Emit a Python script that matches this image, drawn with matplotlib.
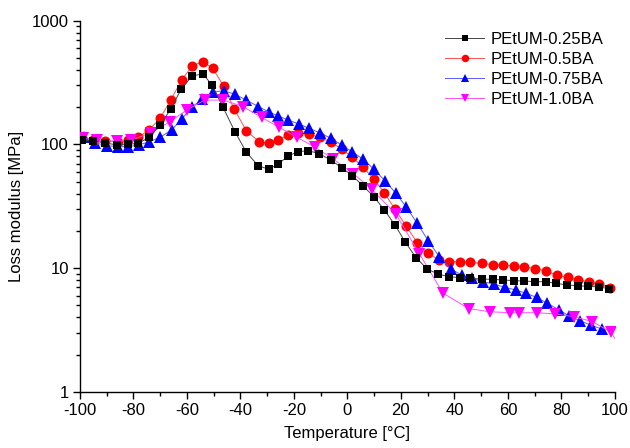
import matplotlib
matplotlib.use("Agg")
import matplotlib.pyplot as plt
from matplotlib.ticker import LogLocator, FixedLocator, MultipleLocator, NullFormatter

plt.rcParams['font.family'] = ['Liberation Sans', 'DejaVu Sans']
plt.rcParams['axes.unicode_minus'] = False

t_025 = [-99.4, -95, -90.7, -86.3, -81.9, -78.2, -74.2, -70.1, -66.1, -62.2,
         -58, -54, -50.7, -46.5, -42.1, -37.8, -33.3, -29.3, -25.9, -22.1,
         -18.6, -14.6, -10.5, -6.3, -2.2, 1.8, 5.9, 9.9, 13.8, 17.8,
         21.5, 25.6, 29.8, 33.9, 37.9, 42.1, 46, 50.2, 54.3, 58.3,
         62.2, 66.1, 70.1, 74.1, 77.9, 82.2, 86.1, 90, 94, 97.9]
e_025 = [108, 107, 103, 99, 100, 102, 114, 143, 192, 279,
         359, 370, 303, 199, 127, 86.5, 67, 63, 69.5, 80.6,
         87.3, 89, 84, 75, 65, 56, 46, 37.8, 29.5, 22.3,
         16.4, 12.2, 9.85, 8.97, 8.54, 8.38, 8.28, 8.18, 8.13, 8.03,
         7.93, 7.88, 7.78, 7.78, 7.55, 7.32, 7.22, 7.14, 7.05, 6.83]

t_05 = [-99.4, -94.6, -90.7, -85.9, -81.9, -78.2, -74.2, -70.1, -66.1, -62,
        -58, -54.1, -50.4, -46.3, -42.3, -37.8, -33, -29.2, -25.9, -22.1,
        -18.4, -14.4, -10.3, -6.3, -2.2, 1.8, 5.9, 9.9, 13.8, 17.8,
        22, 26.1, 30.2, 34.2, 38.1, 42.1, 46, 50.2, 54.3, 58.3,
        62.2, 66.1, 70.1, 74.1, 78.2, 82.3, 86.3, 90.3, 94.1, 98]
e_05 = [112, 110, 107, 105, 108, 114, 131, 162, 228, 331,
        432, 466, 412, 296, 192, 129, 105, 102, 108.6, 119,
        123, 121, 114, 105, 91.8, 78.7, 65.3, 52.3, 40.7, 29.9,
        21.8, 16.1, 13.2, 11.65, 11.3, 11.3, 11.15, 10.95, 10.7, 10.55,
        10.4, 10.3, 9.9, 9.55, 8.81, 8.44, 8.07, 7.74, 7.45, 6.9]

t_075 = [-98.4, -94.4, -90, -85.9, -81.9, -77.9, -74.2, -70.1, -65.7, -62,
         -58, -54.3, -50.4, -46.3, -42.1, -37.8, -33.3, -29.2, -25.9, -22.1,
         -18.1, -14.4, -10.3, -6.2, -2.2, 1.8, 5.9, 9.9, 14, 18.1,
         22, 26, 30.2, 34.3, 38.6, 42.7, 46.4, 50.8, 54.9, 58.9,
         62.9, 66.7, 70.7, 74.8, 79, 83, 86.9, 90.9, 95]
e_075 = [114, 103, 97.8, 96, 96, 99, 105, 114, 131, 160,
         202, 231, 264, 272, 254, 228, 202, 182, 170, 157,
         146, 135, 124, 112, 99, 87, 75.8, 63, 50.9, 40.3,
         31.2, 23.2, 16.7, 12.4, 9.86, 8.81, 8.28, 7.78, 7.41, 7.01,
         6.67, 6.27, 5.82, 5.2, 4.62, 4.1, 3.77, 3.48, 3.23]

t_10 = [-99, -93.5, -86, -81, -73.5, -66.5, -60, -53.4, -46.4, -39,
        -32.1, -25.6, -18.9, -12.1, -5.3, 2.2, 9, 18.1, 26.9, 35.7,
        45.3, 53.2, 60.7, 64.2, 70.7, 77.7, 84.7, 91.6, 98.5, 100.5]
e_10 = [112, 108, 106, 108, 124, 152, 190, 228, 228, 202,
        165, 138, 114, 95, 76, 58, 43.5, 27.4, 13.1, 6.3,
        4.72, 4.45, 4.37, 4.37, 4.37, 4.27, 4.06, 3.7, 3.05, 2.6]

labels = ['PEtUM-0.25BA', 'PEtUM-0.5BA', 'PEtUM-0.75BA', 'PEtUM-1.0BA']

fig = plt.figure(figsize=(6.3, 4.48), dpi=100)
ax = fig.add_axes([0.127, 0.125, 0.849, 0.829])

ax.plot(t_025, e_025, color='#444444', lw=0.7, marker='s', ms=6,
        mfc='black', mec='black', mew=0, label=labels[0], zorder=4)
ax.plot(t_05, e_05, color='#ff5050', lw=0.7, marker='o', ms=7.2,
        mfc='red', mec='red', mew=0, label=labels[1], zorder=3)
ax.plot(t_075, e_075, color='#5a5aff', lw=0.7, marker='^', ms=8,
        mfc='blue', mec='blue', mew=0, label=labels[2], zorder=3)
ax.plot(t_10, e_10, color='#ff50ff', lw=0.7, marker='v', ms=8,
        mfc='magenta', mec='magenta', mew=0, label=labels[3], zorder=3,
        markevery=slice(0, len(t_10) - 1))

ax.set_yscale('log')
ax.set_xlim(-100, 100)
ax.set_ylim(1, 1000)
ax.xaxis.set_major_locator(MultipleLocator(20))
ax.xaxis.set_minor_locator(MultipleLocator(10))
ax.yaxis.set_major_locator(FixedLocator([1, 10, 100, 1000]))
ax.yaxis.set_major_formatter(matplotlib.ticker.FixedFormatter(['1', '10', '100', '1000']))
ax.yaxis.set_minor_locator(LogLocator(base=10, subs=range(2, 10)))
ax.yaxis.set_minor_formatter(NullFormatter())

for s in ['top', 'right']:
    ax.spines[s].set_visible(False)
for s in ['left', 'bottom']:
    ax.spines[s].set_linewidth(1.0)

ax.tick_params(axis='both', which='major', direction='out', length=5, width=1,
               labelsize=12, pad=3)
ax.tick_params(axis='both', which='minor', direction='out', length=3, width=1)

ax.set_xlabel('Temperature [°C]', fontsize=12, labelpad=6)
ax.set_ylabel('Loss modulus [MPa]', fontsize=12, labelpad=6)

leg = ax.legend(loc='upper right', bbox_to_anchor=(1.0, 1.0), frameon=False,
                fontsize=12, handlelength=2.3, handletextpad=0.4,
                labelspacing=0.3, borderaxespad=0.3, markerscale=0.75)

fig.savefig('out.png', dpi=100)
